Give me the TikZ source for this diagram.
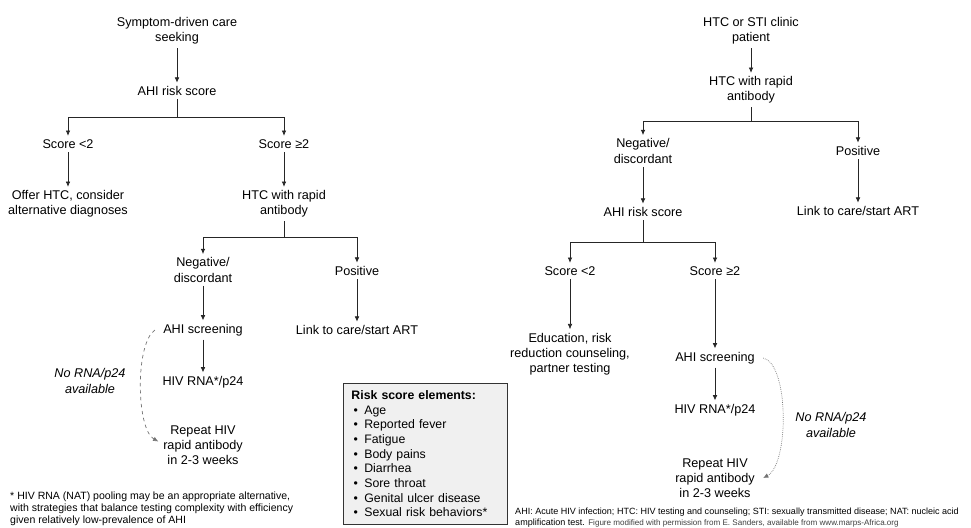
\documentclass[tikz,border=0pt]{standalone}
\usepackage{fontspec}
\setmainfont{Liberation Sans}
\usetikzlibrary{positioning,arrows.meta}

\newcommand{\riskitem}{\hspace{2pt}\makebox[3.5pt][c]{•}\hspace{5.5pt}}

\tikzset{
    lbl/.style={align=center, inner sep=3pt},
    arr/.style={-{Latex[length=4.5pt,width=4pt]}, line width=0.6pt, draw=black!85},
    line/.style={line width=0.6pt, draw=black!85},
    nora/.style={-{Latex[length=4.5pt,width=4pt]}, line width=0.6pt, draw=black!55},
    note/.style={align=center, font=\fontsize{10.8}{12.9}\selectfont\itshape},
}

\begin{document}
\begin{tikzpicture}[x=0.03cm, y=-0.03cm, font=\fontsize{10.8}{12.9}\selectfont]
        % Fix the page size
        \useasboundingbox (0,0) rectangle (971,527);

        % Left pathway: symptom-driven care seeking
        \node[lbl] (sympA) at (177,31) {Symptom-driven care\\seeking};
        \node[lbl] (riskA) at (177,91) {AHI risk score};
        \coordinate (jA) at (177,117);
        \node[lbl] (lowA) at (68,144) {Score <2};
        \node[lbl] (highA) at (284,144) {Score ≥2};
        \node[lbl] (offerA) at (68,204) {Offer HTC, consider\\alternative diagnoses};
        \node[lbl] (htcA) at (284,204) {HTC with rapid\\antibody};
        \coordinate (jB) at (284,237);
        \node[lbl] (negA) at (203,270) {Negative/\\discordant};
        \node[lbl] (posA) at (357,271) {Positive};
        \node[lbl] (screenA) at (203,330) {AHI screening};
        \node[lbl] (linkA) at (357,330) {Link to care/start ART};
        \node[lbl] (rnaA) at (203,382) {HIV RNA*/p24};
        \node[lbl] (repA) at (203,445) {Repeat HIV\\rapid antibody\\in 2-3 weeks};
        \node[note] (noA) at (90,381) {No RNA/p24\\available};

        % Left pathway arrows
        \draw[arr] (sympA) -- (riskA);
        \draw[line] (riskA) -- (jA);
        \draw[arr] (jA) -| (lowA);
        \draw[arr] (jA) -| (highA);
        \draw[arr] (lowA) -- (offerA);
        \draw[arr] (highA) -- (htcA);
        \draw[line] (htcA) -- (jB);
        \draw[arr] (jB) -| (negA);
        \draw[arr] (jB) -| (posA);
        \draw[arr] (negA) -- (screenA);
        \draw[arr] (posA) -- (linkA);
        \draw[arr] (screenA) -- (rnaA);
        \draw[nora, dashed] ([xshift=-4pt]screenA.west) .. controls +(-20,14) and +(-22,-12) .. ([xshift=-1pt,yshift=3pt]repA.west);

        % Footnote
        \node[align=left, anchor=north west, inner sep=0pt, font=\fontsize{9}{10.2}\selectfont] (foot) at (10,492) {
            * HIV RNA (NAT) pooling may be an appropriate alternative,\\
            with strategies that balance testing complexity with efficiency\\
            given relatively low-prevalence of AHI};

        % Risk score box
        \node[draw=black!80, line width=0.8pt, fill=gray!12, anchor=north west, inner xsep=6.8pt, inner ysep=0pt,
              minimum width=4.92cm, minimum height=4.22cm, text width=4.44cm, align=left,
              font=\fontsize{10.5}{12.5}\selectfont] (riskbox) at (343,383) {
            \textbf{Risk score elements:}\\
            \riskitem Age\\
            \riskitem Reported fever\\
            \riskitem Fatigue\\
            \riskitem Body pains\\
            \riskitem Diarrhea\\
            \riskitem Sore throat\\
            \riskitem Genital ulcer disease\\
            \riskitem Sexual risk behaviors*};

        % Right pathway: HTC or STI clinic patient
        \node[lbl] (clinicB) at (751,31) {HTC or STI clinic\\patient};
        \node[lbl] (htcB) at (751,90) {HTC with rapid\\antibody};
        \coordinate (jC) at (751,121);
        \node[lbl] (negB) at (643,151) {Negative/\\discordant};
        \node[lbl] (posB) at (858,151) {Positive};
        \node[lbl] (riskB) at (643,212) {AHI risk score};
        \node[lbl] (linkB) at (858,211) {Link to care/start ART};
        \coordinate (jD) at (643,242);
        \node[lbl] (lowB) at (570,271) {Score <2};
        \node[lbl] (highB) at (715,271) {Score ≥2};
        \node[lbl] (eduB) at (570,354) {Education, risk\\reduction counseling,\\partner testing};
        \node[lbl] (screenB) at (715,358) {AHI screening};
        \node[lbl] (rnaB) at (715,410) {HIV RNA*/p24};
        \node[lbl] (repB) at (715,478) {Repeat HIV\\rapid antibody\\in 2-3 weeks};
        \node[note] (noB) at (831,425) {No RNA/p24\\available};

        % Right pathway arrows
        \draw[arr] (clinicB) -- (htcB);
        \draw[line] (htcB) -- (jC);
        \draw[arr] (jC) -| (negB);
        \draw[arr] (jC) -| (posB);
        \draw[arr] (negB) -- (riskB);
        \draw[arr] (posB) -- (linkB);
        \draw[line] (riskB) -- (jD);
        \draw[arr] (jD) -| (lowB);
        \draw[arr] (jD) -| (highB);
        \draw[arr] (lowB) -- (eduB);
        \draw[arr] (highB) -- (screenB);
        \draw[arr] (screenB) -- (rnaB);
        \draw[nora, densely dotted] ([xshift=4pt]screenB.east) .. controls +(26,6) and +(26,-14) .. ([xshift=4pt]repB.east);

        % Abbreviations
        \node[align=left, anchor=north west, inner sep=0pt, font=\fontsize{7.7}{9.2}\selectfont] (abbr) at (515,508) {
            AHI: Acute HIV infection; HTC: HIV testing and counseling; STI: sexually transmitted disease; NAT: nucleic acid\\
            amplification test. {\fontsize{6.9}{9.2}\selectfont\color{black!75}Figure modified with permission from E. Sanders, available from www.marps-Africa.org}};
\end{tikzpicture}
\end{document}
